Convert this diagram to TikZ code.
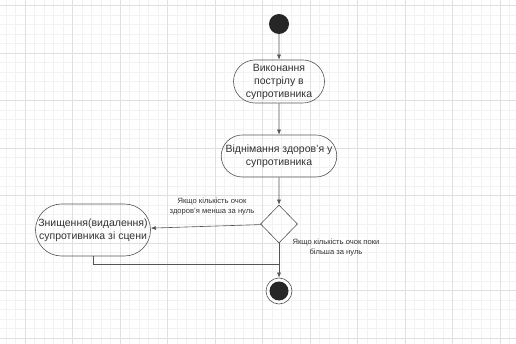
\documentclass[tikz,border=0pt]{standalone}
\usepackage{fontspec}
\setmainfont{Liberation Sans}
\usetikzlibrary{shapes.geometric,shapes.misc,arrows.meta}

\definecolor{linegray}{HTML}{555555}
\definecolor{textgray}{HTML}{333333}

\begin{document}
\begin{tikzpicture}[x=1pt,y=-1pt,
  action/.style={draw=linegray, line width=0.6pt, rounded rectangle, align=center, inner sep=1pt,
    font=\fontsize{10.5}{13}\selectfont, text=textgray},
  guard/.style={align=center, font=\fontsize{7.6}{10}\selectfont, text=textgray, inner sep=0pt},
  flow/.style={draw=linegray, line width=0.6pt, ->, >={Latex[length=5pt,width=4pt]}}]

% Background grid
\useasboundingbox (0,0) rectangle (516,344);
\fill [white] (0,0) rectangle (516,344);
\foreach \i in {0,...,54} {
  \draw [black!5, very thin] (6+9.5*\i,0) -- (6+9.5*\i,344);
}
\foreach \i in {0,...,36} {
  \draw [black!5, very thin] (0,5.5+9.5*\i) -- (516,5.5+9.5*\i);
}
\foreach \i in {0,...,10} {
  \draw [black!12, very thin] (25+47.5*\i,0) -- (25+47.5*\i,344);
}
\foreach \i in {0,...,7} {
  \draw [black!12, very thin] (0,5.5+47.5*\i) -- (516,5.5+47.5*\i);
}

% Start and end
\node (start) [circle, fill=black!85, minimum size=20pt, inner sep=0pt] at (279,24) {};
\node (stop) [circle, draw=linegray, line width=0.6pt, minimum size=26pt, inner sep=0pt] at (279,291) {};
\fill [black!85] (stop.center) circle (9.5);

% Actions
\node (shoot) [action, minimum width=93pt, minimum height=43pt] at (279,81.5) {Виконання\\пострілу в\\супротивника};
\node (damage) [action, minimum width=108pt, minimum height=42pt] at (279,156) {Віднімання здоров'я у\\супротивника};
\node (check) [diamond, draw=linegray, line width=0.6pt, minimum width=37pt, minimum height=38pt, inner sep=0pt] at (279,224) {};
\node (destroy) [action, minimum width=117pt, minimum height=52pt] at (93,230) {Знищення(видалення)\\супротивника зі сцени};
\coordinate (join) at (279,264);

% Transitions
\draw [flow] (start) -- (shoot);
\draw [flow] (shoot) -- (damage);
\draw [flow] (damage) -- (check);
\draw [flow] (check) -- (destroy);
\draw [flow] (check) -- (stop);
\draw [linegray, line width=0.6pt] (destroy) |- (join);

% Guards
\node (lessguard) [guard] at (212,207) {Якщо кількість очок\\здоров'я менша за нуль};
\node (moreguard) [guard] at (336,248) {Якщо кількість очок поки\\більша за нуль};

\end{tikzpicture}
\end{document}
